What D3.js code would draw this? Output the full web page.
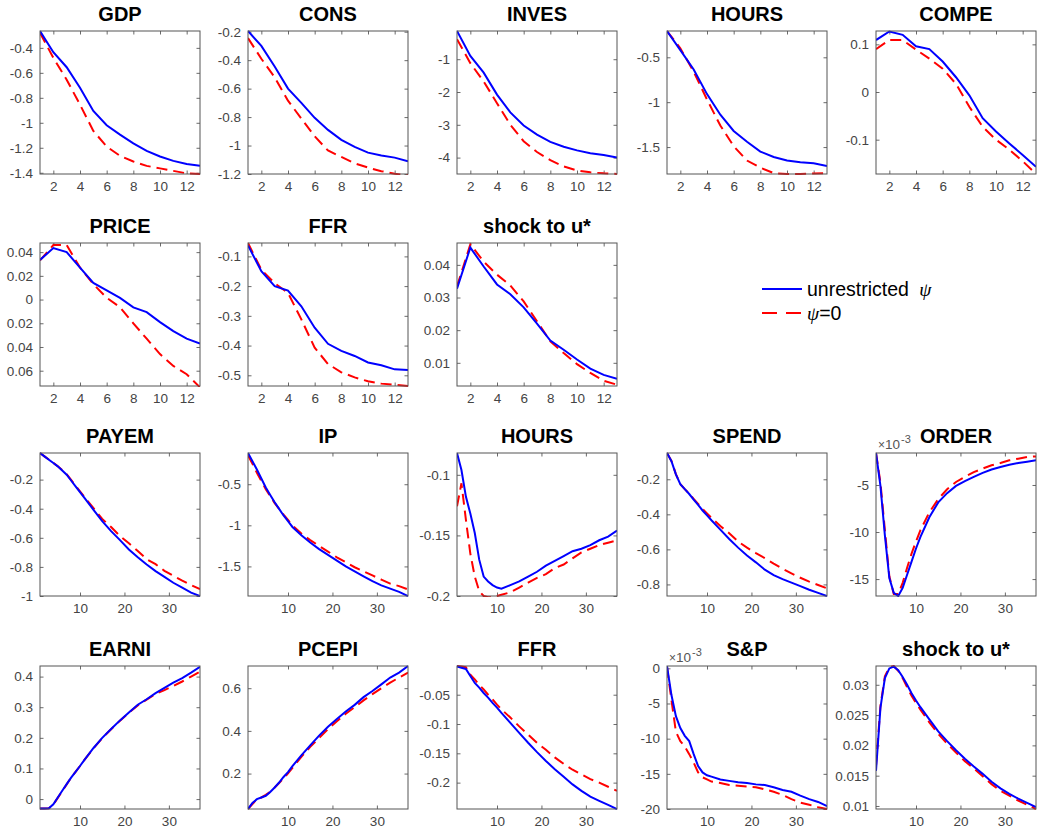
<!DOCTYPE html>
<html>
<head>
<meta charset="utf-8">
<script src="https://cdn.jsdelivr.net/npm/d3@7"></script>
<style>
  body { margin: 0; background: #fff; }
  svg { display: block; font-family: "Liberation Sans", Arial, Helvetica, sans-serif; }
</style>
</head>
<body>
<div id="chart"></div>
<script>
// horizons
const xShort = [1, 2, 3, 4, 5, 6, 7, 8, 9, 10, 11, 12, 13];
const xLong = [1, 2, 3, 4, 5, 6, 7, 8, 9, 10, 11, 13, 15, 17, 19, 21, 23, 25, 27, 29, 31, 33, 35, 37];
const xTicksShort = [2, 4, 6, 8, 10, 12];
const xTicksLong = [10, 20, 30];

// top block (quarterly)
const gdpBlue = [-0.265, -0.435, -0.555, -0.72, -0.905, -1.02, -1.095, -1.165, -1.225, -1.27, -1.305, -1.33, -1.345];
const gdpRed = [-0.28, -0.48, -0.655, -0.855, -1.065, -1.19, -1.265, -1.31, -1.345, -1.365, -1.385, -1.405, -1.41];
const consBlue = [-0.195, -0.3, -0.445, -0.6, -0.7, -0.805, -0.89, -0.96, -1.01, -1.05, -1.07, -1.085, -1.11];
const consRed = [-0.245, -0.39, -0.52, -0.685, -0.81, -0.935, -1.035, -1.08, -1.125, -1.155, -1.18, -1.198, -1.21];
const invesBlue = [-0.14, -0.9, -1.41, -2.08, -2.62, -3.02, -3.3, -3.52, -3.67, -3.78, -3.87, -3.92, -4.0];
const invesRed = [-0.39, -1.12, -1.68, -2.34, -3.0, -3.5, -3.83, -4.08, -4.27, -4.39, -4.45, -4.48, -4.5];
const hoursBlue = [-0.207, -0.42, -0.635, -0.91, -1.14, -1.32, -1.44, -1.55, -1.61, -1.65, -1.67, -1.68, -1.71];
const hoursRed = [-0.207, -0.4, -0.66, -0.97, -1.26, -1.49, -1.65, -1.73, -1.79, -1.8, -1.8, -1.795, -1.79];
const compeBlue = [0.109, 0.127, 0.12, 0.096, 0.09, 0.064, 0.031, -0.007, -0.055, -0.083, -0.108, -0.132, -0.157];
const compeRed = [0.09, 0.109, 0.109, 0.089, 0.07, 0.049, 0.017, -0.031, -0.073, -0.1, -0.121, -0.145, -0.172];
const priceBlue = [0.0334, 0.0434, 0.04, 0.027, 0.014, 0.0077, 0.0014, -0.0066, -0.0106, -0.019, -0.0266, -0.033, -0.0371];
const priceRed = [0.033, 0.046, 0.046, 0.027, 0.013, 0.0015, -0.0065, -0.02, -0.033, -0.046, -0.056, -0.063, -0.074];
const ffrBlue = [-0.063, -0.15, -0.2, -0.215, -0.268, -0.34, -0.394, -0.418, -0.435, -0.457, -0.466, -0.48, -0.482];
const ffrRed = [-0.055, -0.145, -0.19, -0.223, -0.312, -0.407, -0.462, -0.49, -0.507, -0.52, -0.528, -0.532, -0.536];
const shockBlue = [0.0327, 0.0453, 0.0395, 0.034, 0.031, 0.027, 0.022, 0.0168, 0.014, 0.011, 0.0082, 0.0063, 0.0051];
const shockRed = [0.0334, 0.0463, 0.041, 0.037, 0.0337, 0.0288, 0.0227, 0.0166, 0.013, 0.0096, 0.0069, 0.0045, 0.0033];

// bottom block (monthly)
const payemBlue = [-0.017, -0.04, -0.063, -0.086, -0.109, -0.137, -0.166, -0.206, -0.246, -0.286, -0.326, -0.406, -0.486, -0.554, -0.616, -0.68, -0.733, -0.783, -0.829, -0.868, -0.909, -0.943, -0.977, -1.0];
const payemRed = [-0.017, -0.04, -0.062, -0.085, -0.108, -0.135, -0.163, -0.202, -0.241, -0.281, -0.32, -0.395, -0.47, -0.526, -0.588, -0.638, -0.69, -0.747, -0.781, -0.827, -0.861, -0.895, -0.925, -0.953];
const ipBlue = [-0.12, -0.22, -0.32, -0.43, -0.54, -0.63, -0.72, -0.8, -0.88, -0.95, -1.02, -1.12, -1.21, -1.29, -1.36, -1.43, -1.5, -1.56, -1.62, -1.68, -1.73, -1.77, -1.81, -1.86];
const ipRed = [-0.15, -0.25, -0.36, -0.46, -0.56, -0.645, -0.73, -0.8, -0.87, -0.935, -1.0, -1.1, -1.18, -1.25, -1.32, -1.39, -1.45, -1.51, -1.56, -1.61, -1.66, -1.71, -1.74, -1.78];
const hours2Blue = [-0.082, -0.096, -0.118, -0.132, -0.148, -0.17, -0.184, -0.188, -0.191, -0.193, -0.194, -0.191, -0.188, -0.184, -0.18, -0.175, -0.171, -0.167, -0.163, -0.161, -0.158, -0.154, -0.151, -0.146];
const hours2Red = [-0.126, -0.107, -0.137, -0.165, -0.184, -0.196, -0.2, -0.201, -0.201, -0.2, -0.199, -0.197, -0.193, -0.189, -0.185, -0.182, -0.177, -0.174, -0.169, -0.164, -0.161, -0.158, -0.156, -0.154];
const spendBlue = [-0.05, -0.097, -0.172, -0.228, -0.256, -0.284, -0.316, -0.346, -0.378, -0.406, -0.434, -0.487, -0.541, -0.59, -0.635, -0.674, -0.716, -0.747, -0.77, -0.79, -0.81, -0.83, -0.848, -0.866];
const spendRed = [-0.05, -0.095, -0.17, -0.228, -0.256, -0.282, -0.312, -0.34, -0.369, -0.395, -0.42, -0.467, -0.508, -0.555, -0.59, -0.621, -0.65, -0.681, -0.71, -0.737, -0.762, -0.784, -0.803, -0.822];
const orderBlue = [-1.6, -5.1, -10.35, -14.9, -16.47, -16.8, -15.94, -14.54, -13.15, -11.75, -10.52, -8.43, -6.85, -5.87, -5.1, -4.58, -4.13, -3.71, -3.36, -3.08, -2.84, -2.66, -2.52, -2.38];
const orderRed = [-1.6, -4.75, -9.8, -14.7, -16.6, -16.6, -15.4, -13.8, -12.3, -11.0, -9.8, -7.9, -6.5, -5.45, -4.68, -4.13, -3.64, -3.26, -2.91, -2.66, -2.38, -2.2, -2.03, -1.96];
const earniBlue = [-0.031, -0.031, -0.03, -0.017, 0.005, 0.027, 0.049, 0.07, 0.089, 0.108, 0.128, 0.166, 0.2, 0.229, 0.257, 0.283, 0.308, 0.326, 0.346, 0.363, 0.38, 0.395, 0.413, 0.432];
const earniRed = [-0.031, -0.031, -0.03, -0.018, 0.004, 0.026, 0.048, 0.07, 0.089, 0.108, 0.128, 0.165, 0.199, 0.228, 0.256, 0.282, 0.306, 0.325, 0.343, 0.356, 0.369, 0.384, 0.4, 0.416];
const pcepiBlue = [0.034, 0.062, 0.08, 0.088, 0.096, 0.114, 0.135, 0.158, 0.184, 0.207, 0.235, 0.285, 0.332, 0.378, 0.419, 0.456, 0.491, 0.522, 0.558, 0.587, 0.618, 0.65, 0.673, 0.704];
const pcepiRed = [0.034, 0.057, 0.08, 0.088, 0.1, 0.114, 0.135, 0.155, 0.178, 0.201, 0.227, 0.278, 0.325, 0.367, 0.409, 0.445, 0.48, 0.511, 0.543, 0.572, 0.6, 0.626, 0.65, 0.673];
const ffr2Blue = [-0.002, -0.004, -0.006, -0.018, -0.03, -0.038, -0.047, -0.055, -0.064, -0.072, -0.081, -0.098, -0.115, -0.132, -0.148, -0.163, -0.177, -0.19, -0.203, -0.214, -0.224, -0.231, -0.238, -0.245];
const ffr2Red = [-0.001, -0.002, -0.003, -0.016, -0.024, -0.033, -0.041, -0.05, -0.058, -0.067, -0.075, -0.089, -0.104, -0.118, -0.132, -0.144, -0.157, -0.168, -0.178, -0.186, -0.194, -0.2, -0.207, -0.214];
const snpBlue = [0.3, -3.8, -6.8, -8.5, -9.6, -10.35, -12.2, -13.9, -14.8, -15.2, -15.4, -15.8, -16.0, -16.2, -16.3, -16.5, -16.6, -16.9, -17.3, -17.55, -18.1, -18.6, -19.0, -19.6];
const snpRed = [0.2, -4.5, -9.0, -10.35, -11.1, -12.2, -13.4, -14.8, -15.5, -15.8, -16.1, -16.3, -16.6, -16.7, -16.8, -16.9, -17.2, -17.55, -18.0, -18.6, -19.1, -19.4, -19.75, -20.0];
const shock2Blue = [0.0158, 0.0262, 0.0311, 0.0327, 0.033, 0.0324, 0.0313, 0.03, 0.0286, 0.0274, 0.0263, 0.0243, 0.0223, 0.0207, 0.0192, 0.0178, 0.0165, 0.0153, 0.014, 0.0129, 0.012, 0.0112, 0.0105, 0.0098];
const shock2Red = [0.0166, 0.0265, 0.0314, 0.0329, 0.0331, 0.0323, 0.0311, 0.0296, 0.0282, 0.027, 0.0259, 0.0238, 0.0219, 0.0203, 0.0188, 0.0174, 0.0162, 0.0149, 0.0136, 0.0125, 0.0117, 0.0109, 0.0102, 0.0095];

const legendLabels = ['unrestricted ', '=0'];

const width = 1039;
const height = 835;
const colLeft = [40, 248, 457, 667, 876];
const rowTop = [31, 243, 453, 666];
const boxW = 160;
const boxH = 143;
const tick = 3.5;

const panels = [
    { title: 'GDP', row: 0, col: 0, x: xShort, xt: xTicksShort, blue: gdpBlue, red: gdpRed, yd: [-1.41, -0.265], yt: [-1.4, -1.2, -1, -0.8, -0.6, -0.4] },
    { title: 'CONS', row: 0, col: 1, x: xShort, xt: xTicksShort, blue: consBlue, red: consRed, yd: [-1.2, -0.195], yt: [-1.2, -1, -0.8, -0.6, -0.4, -0.2] },
    { title: 'INVES', row: 0, col: 2, x: xShort, xt: xTicksShort, blue: invesBlue, red: invesRed, yd: [-4.5, -0.14], yt: [-4, -3, -2, -1] },
    { title: 'HOURS', row: 0, col: 3, x: xShort, xt: xTicksShort, blue: hoursBlue, red: hoursRed, yd: [-1.8, -0.207], yt: [-1.5, -1, -0.5] },
    { title: 'COMPE', row: 0, col: 4, x: xShort, xt: xTicksShort, blue: compeBlue, red: compeRed, yd: [-0.172, 0.128], yt: [-0.1, 0, 0.1] },
    { title: 'PRICE', row: 1, col: 0, x: xShort, xt: xTicksShort, blue: priceBlue, red: priceRed, yd: [-0.0729, 0.0477], yt: [-0.06, -0.04, -0.02, 0, 0.02, 0.04], cutMinus: true },
    { title: 'FFR', row: 1, col: 1, x: xShort, xt: xTicksShort, blue: ffrBlue, red: ffrRed, yd: [-0.536, -0.055], yt: [-0.5, -0.4, -0.3, -0.2, -0.1] },
    { title: 'shock to u*', row: 1, col: 2, x: xShort, xt: xTicksShort, blue: shockBlue, red: shockRed, yd: [0.0029, 0.0467], yt: [0.01, 0.02, 0.03, 0.04] },
    { title: 'PAYEM', row: 2, col: 0, x: xLong, xt: xTicksLong, blue: payemBlue, red: payemRed, yd: [-1.0, -0.017], yt: [-1, -0.8, -0.6, -0.4, -0.2] },
    { title: 'IP', row: 2, col: 1, x: xLong, xt: xTicksLong, blue: ipBlue, red: ipRed, yd: [-1.86, -0.12], yt: [-1.5, -1, -0.5] },
    { title: 'HOURS', row: 2, col: 2, x: xLong, xt: xTicksLong, blue: hours2Blue, red: hours2Red, yd: [-0.2, -0.082], yt: [-0.2, -0.15, -0.1] },
    { title: 'SPEND', row: 2, col: 3, x: xLong, xt: xTicksLong, blue: spendBlue, red: spendRed, yd: [-0.866, -0.05], yt: [-0.8, -0.6, -0.4, -0.2] },
    { title: 'ORDER', row: 2, col: 4, x: xLong, xt: xTicksLong, blue: orderBlue, red: orderRed, yd: [-16.8, -1.6], yt: [-15, -10, -5], exponent: true },
    { title: 'EARNI', row: 3, col: 0, x: xLong, xt: xTicksLong, blue: earniBlue, red: earniRed, yd: [-0.0324, 0.4346], yt: [0, 0.1, 0.2, 0.3, 0.4] },
    { title: 'PCEPI', row: 3, col: 1, x: xLong, xt: xTicksLong, blue: pcepiBlue, red: pcepiRed, yd: [0.034, 0.704], yt: [0.2, 0.4, 0.6] },
    { title: 'FFR', row: 3, col: 2, x: xLong, xt: xTicksLong, blue: ffr2Blue, red: ffr2Red, yd: [-0.245, -0.001], yt: [-0.2, -0.15, -0.1, -0.05] },
    { title: 'S&P', row: 3, col: 3, x: xLong, xt: xTicksLong, blue: snpBlue, red: snpRed, yd: [-20, 0.33], yt: [-20, -15, -10, -5, 0], exponent: true },
    { title: 'shock to u*', row: 3, col: 4, x: xLong, xt: xTicksLong, blue: shock2Blue, red: shock2Red, yd: [0.0095, 0.0331], yt: [0.01, 0.015, 0.02, 0.025, 0.03] }
];

const svg = d3.select('#chart').append('svg').attr('width', width).attr('height', height);
svg.append('rect').attr('width', width).attr('height', height).attr('fill', '#fff');

function styleAxis(g) {
    g.attr('font-size', 13.5).attr('font-family', null).attr('color', '#444');
    g.select('.domain').remove();
    g.selectAll('.tick line').attr('stroke-width', 0.8);
}

function drawPanel(p, i) {
    const left = colLeft[p.col];
    const top = rowTop[p.row];
    const xScale = d3.scaleLinear().domain([p.x[0], p.x[p.x.length - 1]]).range([0, boxW]);
    const yScale = d3.scaleLinear().domain(p.yd).range([boxH, 0]);

    const graph = svg.append('g').attr('transform', `translate(${left}, ${top})`);

    // the exported figure lost the minus signs on the PRICE labels
    const fmt = (d) => {
        const s = String(+d.toFixed(6));
        return p.cutMinus ? s.replace('-', '') : s;
    };

    graph.append('g').call(d3.axisLeft(yScale).tickValues(p.yt).tickSize(-tick).tickPadding(7).tickFormat(fmt)).call(styleAxis);
    graph.append('g').attr('transform', `translate(${boxW}, 0)`)
        .call(d3.axisRight(yScale).tickValues(p.yt).tickSize(-tick).tickFormat('')).call(styleAxis);
    graph.append('g').attr('transform', `translate(0, ${boxH})`)
        .call(d3.axisBottom(xScale).tickValues(p.xt).tickSize(-tick).tickPadding(7).tickFormat(d3.format('d'))).call(styleAxis);
    graph.append('g')
        .call(d3.axisTop(xScale).tickValues(p.xt).tickSize(-tick).tickFormat('')).call(styleAxis);

    const clipId = `clip${i}`;
    graph.append('clipPath').attr('id', clipId)
        .append('rect').attr('x', 0).attr('y', -1).attr('width', boxW).attr('height', boxH + 2);

    const line = d3.line().x((d) => xScale(d[0])).y((d) => yScale(d[1]));
    const lines = graph.append('g').attr('clip-path', `url(#${clipId})`);

    lines.append('path')
        .datum(p.x.map((x, k) => [x, p.red[k]]))
        .attr('d', line)
        .attr('fill', 'none')
        .attr('stroke', '#ff0000')
        .attr('stroke-width', 2)
        .attr('stroke-dasharray', '11,6');

    lines.append('path')
        .datum(p.x.map((x, k) => [x, p.blue[k]]))
        .attr('d', line)
        .attr('fill', 'none')
        .attr('stroke', '#0000ff')
        .attr('stroke-width', 2);

    graph.append('rect')
        .attr('width', boxW).attr('height', boxH)
        .attr('fill', 'none').attr('stroke', '#555').attr('stroke-width', 1);

    graph.append('text')
        .attr('x', boxW / 2).attr('y', -10)
        .attr('text-anchor', 'middle')
        .attr('font-size', 20).attr('font-weight', 'bold').attr('fill', '#000')
        .text(p.title);

    if (p.exponent) {
        const ex = graph.append('text').attr('x', 2).attr('y', -4).attr('font-size', 13.5).attr('fill', '#555');
        ex.append('tspan').attr('font-size', 12).text('\u00d7');
        ex.append('tspan').text('10');
        ex.append('tspan').attr('font-size', 11).attr('dx', 1).attr('dy', -6).text('-3');
    }
}

panels.forEach(drawPanel);

// legend
const legend = svg.append('g').attr('transform', 'translate(762, 289)');
legend.append('line').attr('x1', 0).attr('x2', 40).attr('y1', 0).attr('y2', 0)
    .attr('stroke', '#0000ff').attr('stroke-width', 2);
legend.append('line').attr('x1', 0).attr('x2', 40).attr('y1', 24).attr('y2', 24)
    .attr('stroke', '#ff0000').attr('stroke-width', 2).attr('stroke-dasharray', '15,9');

const l1 = legend.append('text').attr('x', 45).attr('y', 7).attr('font-size', 19.5).attr('fill', '#000');
l1.append('tspan').text(legendLabels[0]);
l1.append('tspan').attr('font-family', '"Liberation Serif", "Times New Roman", serif').attr('font-style', 'italic').attr('dx', 5).text('\u03c8');

const l2 = legend.append('text').attr('x', 45).attr('y', 31).attr('font-size', 19.5).attr('fill', '#000');
l2.append('tspan').attr('font-family', '"Liberation Serif", "Times New Roman", serif').attr('font-style', 'italic').text('\u03c8');
l2.append('tspan').text(legendLabels[1]);
</script>
</body>
</html>
